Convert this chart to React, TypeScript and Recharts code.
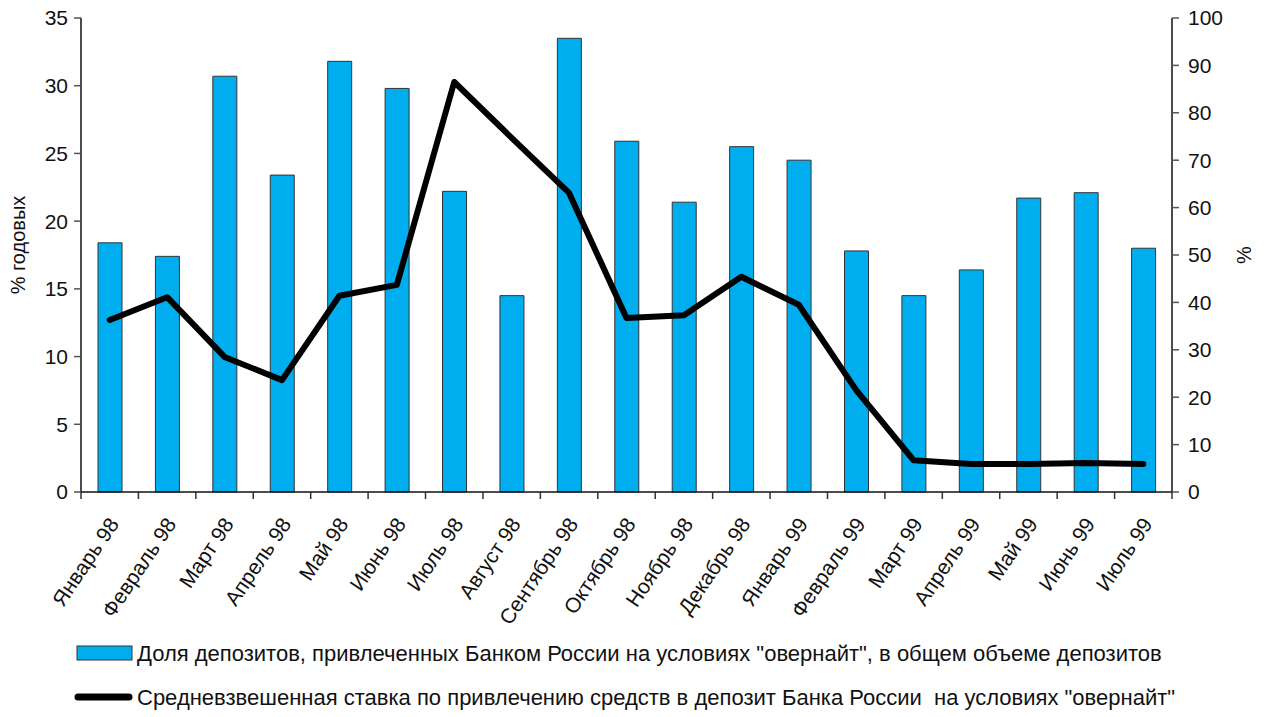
import React from 'react';
import { ComposedChart, Bar, Line, XAxis, YAxis, Legend } from 'recharts';

const months = [
  'Январь 98', 'Февраль 98', 'Март 98', 'Апрель 98', 'Май 98', 'Июнь 98', 'Июль 98',
  'Август 98', 'Сентябрь 98', 'Октябрь 98', 'Ноябрь 98', 'Декабрь 98', 'Январь 99',
  'Февраль 99', 'Март 99', 'Апрель 99', 'Май 99', 'Июнь 99', 'Июль 99',
];
const depositShare = [18.4, 17.4, 30.7, 23.4, 31.8, 29.8, 22.2, 14.5, 33.5, 25.9, 21.4, 25.5, 24.5, 17.8, 14.5, 16.4, 21.7, 22.1, 18.0];
const overnightRate = [36.3, 41.1, 28.5, 23.6, 41.4, 43.7, 86.5, 74.7, 63.1, 36.7, 37.3, 45.4, 39.5, 21.5, 6.7, 5.9, 5.9, 6.1, 5.9];
const leftTicks = [0, 5, 10, 15, 20, 25, 30, 35];
const rightTicks = [0, 10, 20, 30, 40, 50, 60, 70, 80, 90, 100];
const barName = 'Доля депозитов, привлеченных Банком России на условиях "овернайт", в общем объеме депозитов';
const lineName = 'Средневзвешенная ставка по привлечению средств в депозит Банка России  на условиях "овернайт"';

const data = months.map((m, i) => ({ month: m, share: depositShare[i], rate: overnightRate[i] }));

const W = 1268;
const H = 717;
const LEFT_W = 81;
const RIGHT_W = 96;
const FONT = '"Liberation Sans", Arial, Helvetica, sans-serif';
const BLUE = '#00AEEF';
const band = (W - LEFT_W - RIGHT_W) / months.length;

const XTick = (props: any) => {
  const { x, y, payload, index } = props;
  const top = y - 8;
  return (
    <g>
      <line x1={x - band / 2} y1={top} x2={x - band / 2} y2={top + 7} stroke="#333" strokeWidth={1.5} />
      {index === months.length - 1 && (
        <line x1={x + band / 2} y1={top} x2={x + band / 2} y2={top + 7} stroke="#333" strokeWidth={1.5} />
      )}
      <g transform={`translate(${x + 10},${y + 24})`}>
        <text x={0} y={0} transform="rotate(-56)" textAnchor="end" fontSize={21} fontFamily={FONT} fill="#111">
          {payload.value}
        </text>
      </g>
    </g>
  );
};

const LegendContent = () => (
  <svg width={W} height={70} style={{ display: 'block' }}>
    <rect x={77} y={6} width={55} height={14} fill={BLUE} stroke="#333" strokeWidth={1} />
    <text x={137} y={13} dominantBaseline="central" fontSize={22} fontFamily={FONT} fill="#111">{barName}</text>
    <line x1={78} y1={57} x2={129} y2={57} stroke="#000" strokeWidth={7} strokeLinecap="round" />
    <text x={137} y={57} dominantBaseline="central" fontSize={22} fontFamily={FONT} fill="#111" style={{ whiteSpace: 'pre' }}>{lineName}</text>
  </svg>
);

export default function App() {
  return (
    <div style={{ position: 'absolute', left: 0, top: 0, width: W, height: H, background: '#fff' }}>
      <ComposedChart width={W} height={H} data={data} margin={{ top: 18, right: 0, left: 0, bottom: 7 }}>
        <XAxis
          dataKey="month"
          interval={0}
          height={148}
          tick={<XTick />}
          tickLine={false}
          axisLine={{ stroke: '#111', strokeWidth: 1.5 }}
        />
        <YAxis
          yAxisId="left"
          domain={[0, 35]}
          ticks={leftTicks}
          width={LEFT_W}
          tickSize={7}
          tickMargin={6}
          axisLine={{ stroke: '#111', strokeWidth: 1.5 }}
          tickLine={{ stroke: '#555', strokeWidth: 1.5 }}
          tick={{ fontSize: 21, fontFamily: FONT, fill: '#111' }}
          label={{
            content: (p: any) => {
              const vb = p.viewBox || { x: 0, y: 18, width: 81, height: 474 };
              const cx = vb.x + 18;
              const cy = vb.y + vb.height / 2 - 10;
              return (
                <text x={cx} y={cy} transform={`rotate(-90 ${cx} ${cy})`} textAnchor="middle" dominantBaseline="central" fontSize={20} fontFamily={FONT} fill="#111">
                  % годовых
                </text>
              );
            },
          }}
        />
        <YAxis
          yAxisId="right"
          orientation="right"
          domain={[0, 100]}
          ticks={rightTicks}
          width={RIGHT_W}
          tickSize={7}
          tickMargin={9}
          axisLine={{ stroke: '#111', strokeWidth: 1.5 }}
          tickLine={{ stroke: '#555', strokeWidth: 1.5 }}
          tick={{ fontSize: 21, fontFamily: FONT, fill: '#111' }}
          label={{
            content: (p: any) => {
              const vb = p.viewBox || { x: 1172, y: 18, width: 96, height: 474 };
              const cx = vb.x + 72;
              const cy = vb.y + vb.height / 2;
              return (
                <text x={cx} y={cy} transform={`rotate(-90 ${cx} ${cy})`} textAnchor="middle" dominantBaseline="central" fontSize={20} fontFamily={FONT} fill="#111">
                  %
                </text>
              );
            },
          }}
        />
        <Bar yAxisId="left" dataKey="share" name={barName} fill={BLUE} stroke="#333" strokeWidth={1} barSize={24} isAnimationActive={false} />
        <Line
          yAxisId="right"
          dataKey="rate"
          name={lineName}
          type="linear"
          stroke="#000"
          strokeWidth={6}
          strokeLinecap="round"
          strokeLinejoin="round"
          dot={false}
          activeDot={false}
          isAnimationActive={false}
        />
        <Legend verticalAlign="bottom" content={<LegendContent />} wrapperStyle={{ left: 0, width: W, height: 70 }} />
      </ComposedChart>
    </div>
  );
}
